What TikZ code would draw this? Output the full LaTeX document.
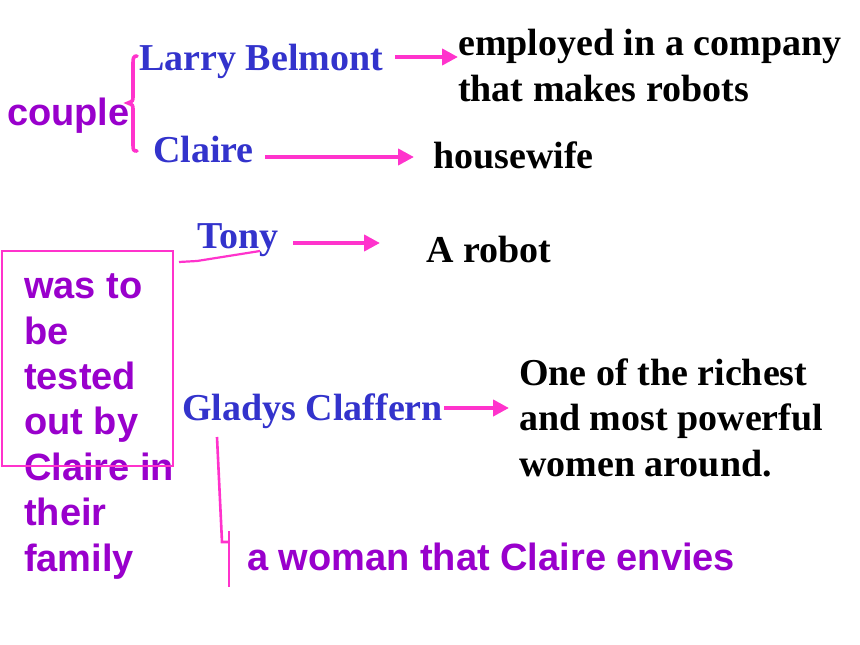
\documentclass[tikz,border=0pt]{standalone}
\usepackage{fontspec}
\setmainfont{Liberation Serif}
\setsansfont{Liberation Sans}
\usetikzlibrary{arrows.meta}
\definecolor{pk}{HTML}{FF33CC}
\definecolor{bl}{HTML}{3333CC}
\definecolor{pu}{HTML}{9900CC}
\tikzset{
  person/.style={text=bl, font=\bfseries\fontsize{38}{45.5}\selectfont, inner sep=0pt, anchor=base west},
  desc/.style={text=black, font=\bfseries\fontsize{38}{45.5}\selectfont, inner sep=0pt, anchor=base west, align=left},
  note/.style={text=pu, font=\sffamily\bfseries\fontsize{38}{45.4}\selectfont, inner sep=0pt, anchor=base west, align=left},
  arr/.style={draw=pk, line width=4pt, -{Triangle[length=16pt,width=16pt]}},
  link/.style={draw=pk, line width=2.2pt},
  frame/.style={draw=pk, line width=2pt, inner sep=0pt}
}
\begin{document}
\begin{tikzpicture}[x=1pt,y=-1pt]
\useasboundingbox[fill=white] (0,0) rectangle (860,645);
% texts (multi-line nodes: base = baseline of the last line)
\node[note] (couple) at (7,125) {couple};
\node[person] (larry) at (139,70) {Larry Belmont};
\node[desc] (emp) at (458,101) {employed in a company\\that makes robots};
\node[person] (claire) at (153,162) {Claire};
\node[desc] (house) at (433,168) {housewife};
\node[person] (tony) at (197,248) {Tony};
\node[desc] (robot) at (426,262) {A robot};
\node[person] (gladys) at (182,420) {Gladys Claffern};
\node[desc] (rich) at (519,476) {One of the richest\\and most powerful\\women around.};
\node[note] (tested) at (24,571) {was to\\be\\tested\\out by\\Claire in\\their\\family};
\node[note] (envy) at (247,570) {a woman that Claire envies};
% frame around the note
\node[frame, minimum width=171pt, minimum height=215pt, anchor=north west] (box) at (1,250) {};
% brace for couple
\draw[pk, line width=3.6pt, line cap=round]
  (137,56) .. controls (133.5,56) and (133,58) .. (133,63) -- (133,96)
  .. controls (133,101) .. (128,103) .. controls (133,105) .. (133,110)
  -- (133,145) .. controls (133,150) and (133.5,151) .. (137,151);
% arrows
\coordinate (a1s) at (395,57);  \coordinate (a1e) at (458,57);
\coordinate (a2s) at (265,157); \coordinate (a2e) at (414,157);
\coordinate (a3s) at (293,243); \coordinate (a3e) at (380,243);
\coordinate (a4s) at (444,408); \coordinate (a4e) at (509,408);
\draw[arr] (a1s) -- (a1e);
\draw[arr] (a2s) -- (a2e);
\draw[arr] (a3s) -- (a3e);
\draw[arr] (a4s) -- (a4e);
% Tony link to box
\coordinate (t1) at (179,262);
\coordinate (t2) at (197,261);
\coordinate (t3) at (260,251);
\draw[link] (t1) -- (t2) -- (t3);
% Gladys link to bracket
\coordinate (g1) at (217,437);
\coordinate (g2) at (222,542);
\coordinate (g3) at (229,542);
\coordinate (b1) at (229,531);
\coordinate (b2) at (229,587);
\draw[link, line width=2.6pt] (g1) -- (g2) -- (g3);
\draw[link, line width=2.6pt] (b1) -- (b2);
\end{tikzpicture}
\end{document}
